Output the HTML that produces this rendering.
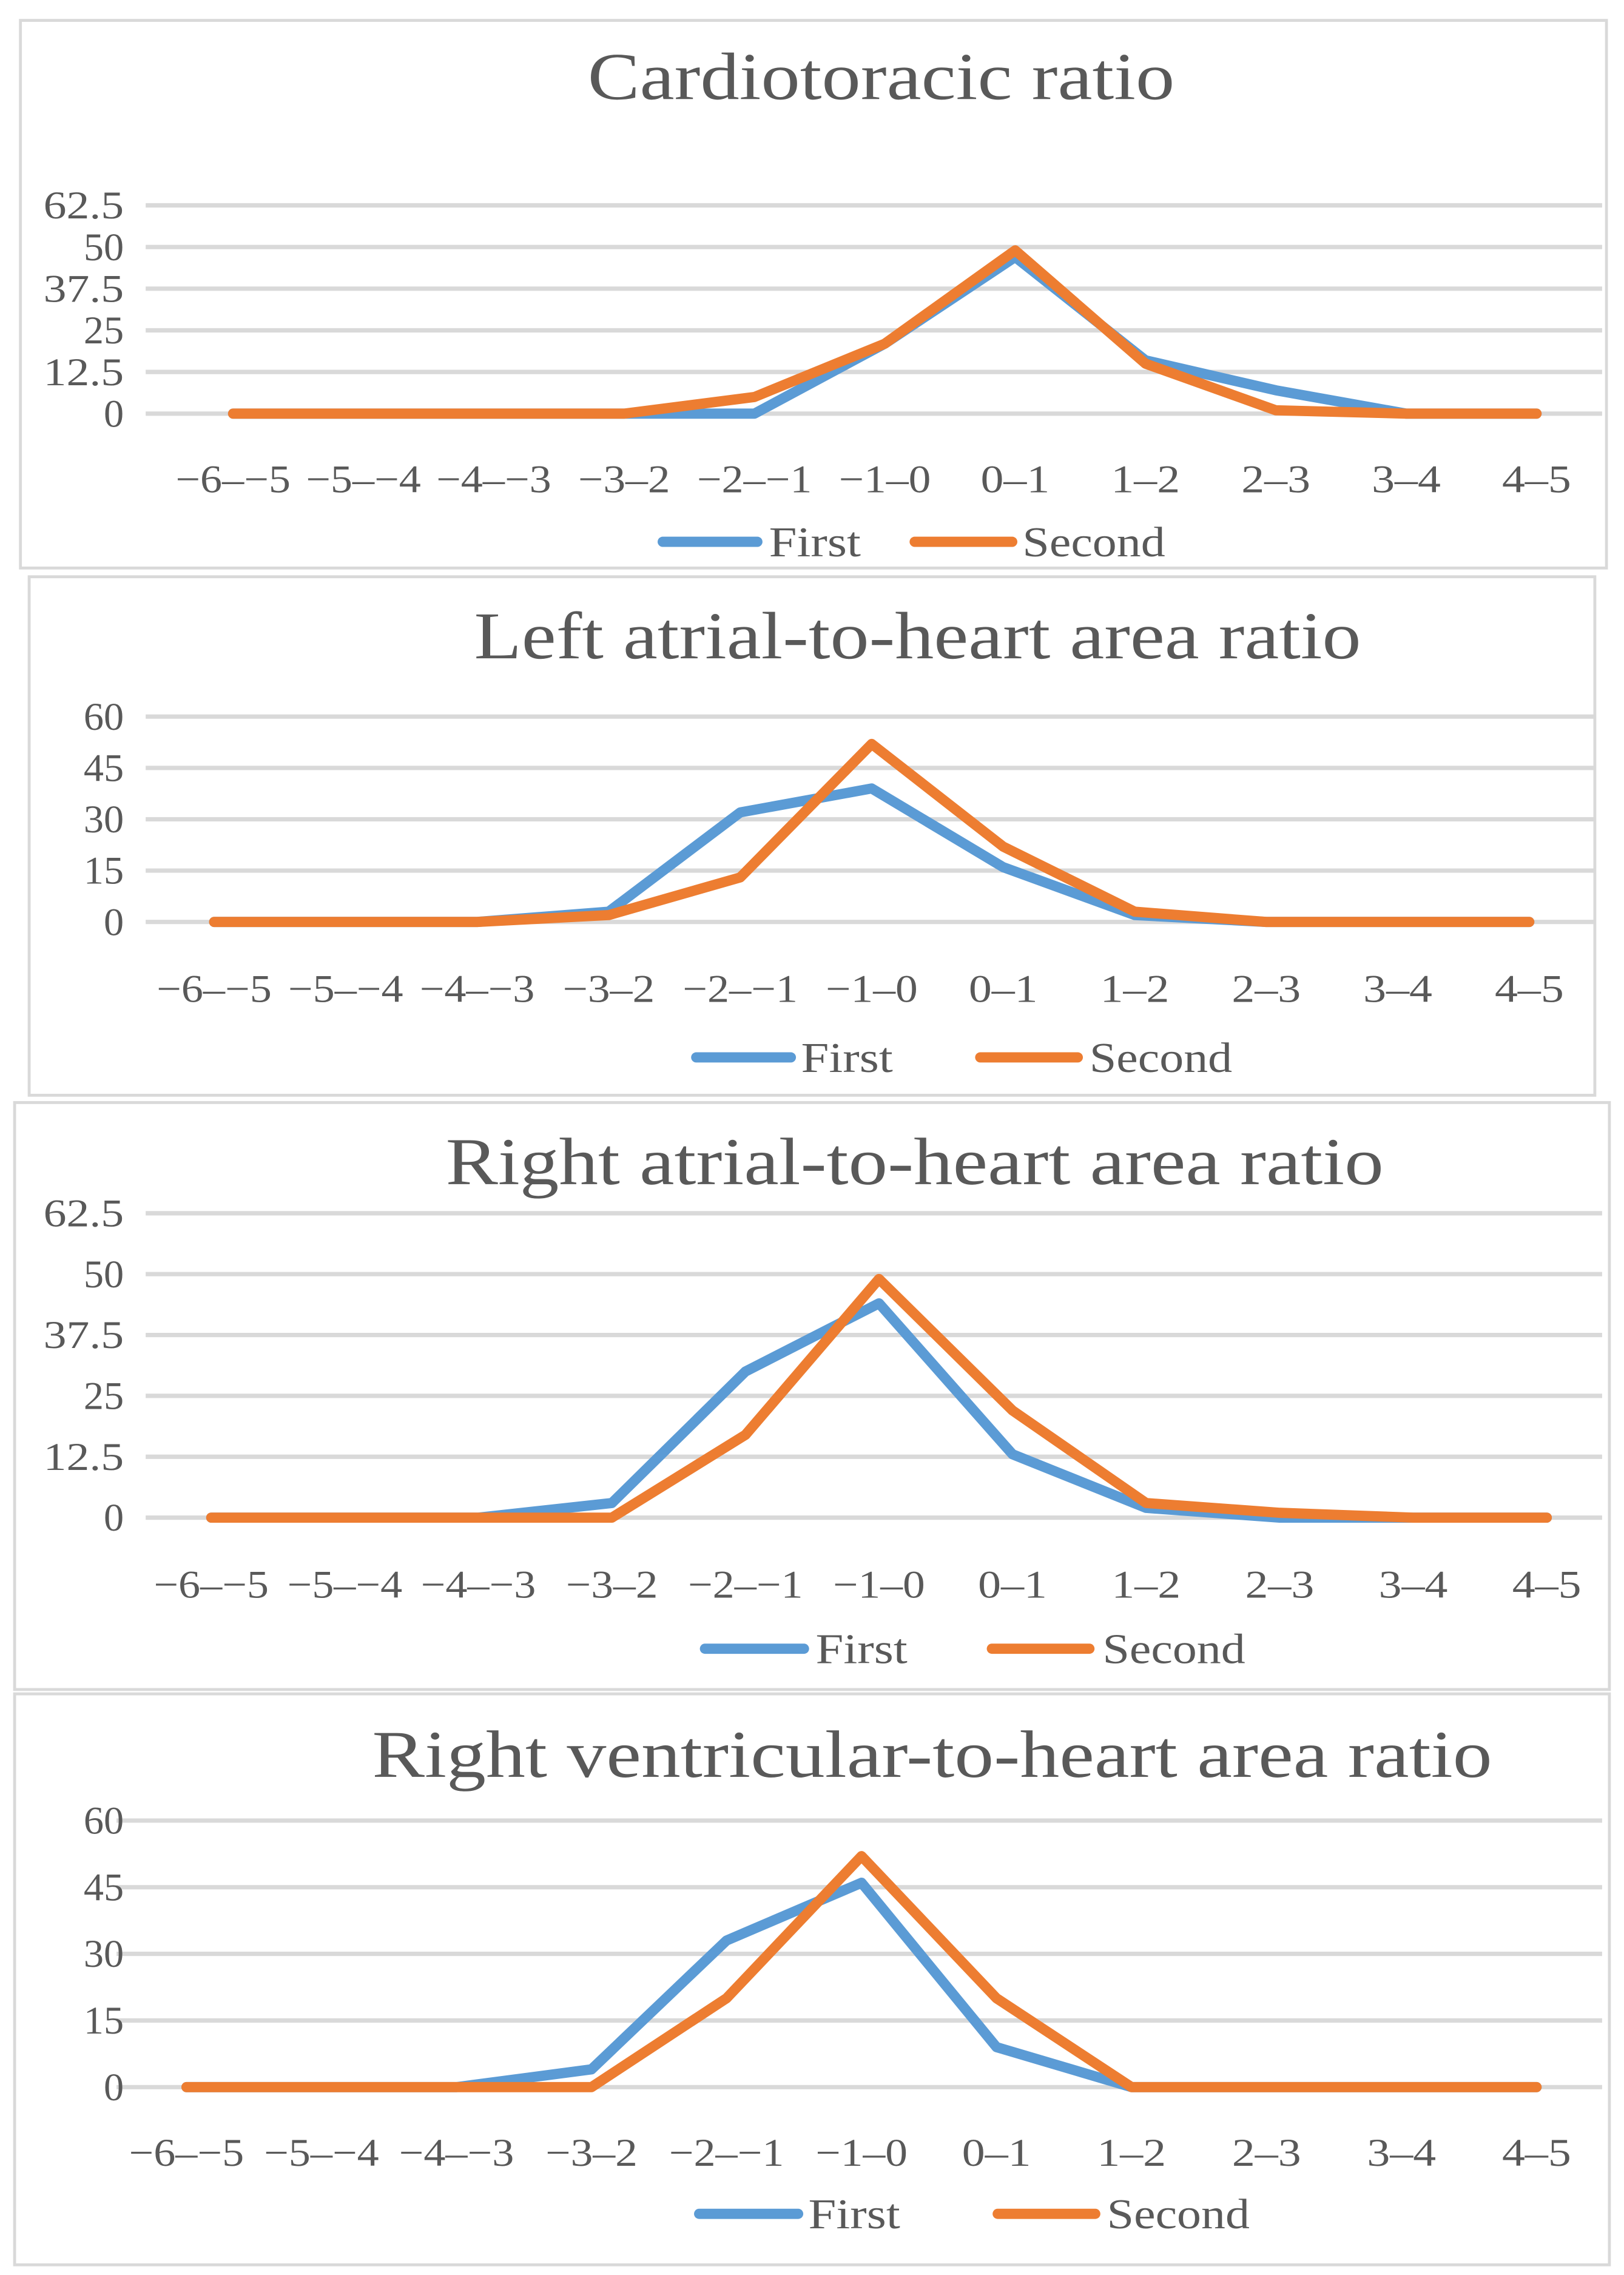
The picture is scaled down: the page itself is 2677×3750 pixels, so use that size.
<!DOCTYPE html>
<html><head><meta charset="utf-8"><style>
html,body{margin:0;padding:0;background:#fff}
svg{display:block}
text{font-family:"Liberation Serif",serif;fill:#595959}
</style></head><body>
<svg id="chart" width="2677" height="3750" viewBox="0 0 1115 1562" xmlns="http://www.w3.org/2000/svg"></svg>
<script>
const categories = ["\u22126\u2013\u22125","\u22125\u2013\u22124","\u22124\u2013\u22123","\u22123\u20132","\u22122\u2013\u22121","\u22121\u20130","0\u20131","1\u20132","2\u20133","3\u20134","4\u20135"];
const titles = ["Cardiotoracic ratio","Left atrial-to-heart area ratio","Right atrial-to-heart area ratio","Right ventricular-to-heart area ratio"];
const ticks1 = ["0","12.5","25","37.5","50","62.5"];
const ticks2 = ["0","15","30","45","60"];
const ticks3 = ["0","12.5","25","37.5","50","62.5"];
const ticks4 = ["0","15","30","45","60"];
const first1 = [0,0,0,0,0,21,47,16,7,0,0];
const second1 = [0,0,0,0,5,21,49,15,1,0,0];
const first2 = [0,0,0,3,32,39,16,2,0,0,0];
const second2 = [0,0,0,2,13,52,22,3,0,0,0];
const first3 = [0,0,0,3,30,44,13,2,0,0,0];
const second3 = [0,0,0,0,17,49,22,3,1,0,0];
const first4 = [0,0,0,4,33,46,9,0,0,0,0];
const second4 = [0,0,0,0,20,52,20,0,0,0,0];

const NS="http://www.w3.org/2000/svg";
const svg=document.getElementById('chart');
function mk(tag,attrs,parent){const e=document.createElementNS(NS,tag);for(const k in attrs)e.setAttribute(k,attrs[k]);(parent||svg).appendChild(e);return e;}
function fitW(e,w){e.setAttribute('textLength',w);e.setAttribute('lengthAdjust','spacingAndGlyphs');}

const layouts=[
 {box:[14,14,1089,376],tx:605,tw:403,ty:68,y0:284,ytop:141,gx0:100,gx1:1100,cx0:160,cx1:1055,ly:338,leg:[455,520,528,628,695,702],legy:372,ticks:ticks1,f:first1,s:second1,tmax:62.5},
 {box:[20,396,1075,356],tx:630,tw:609,ty:452,y0:633,ytop:492,gx0:100,gx1:1095,cx0:147,cx1:1050,ly:688,leg:[478,543,550,673,740,748],legy:726,ticks:ticks2,f:first2,s:second2,tmax:60},
 {box:[10,757,1095,403],tx:628,tw:644,ty:813,y0:1042,ytop:833,gx0:100,gx1:1100,cx0:145,cx1:1062,ly:1097,leg:[484,552,560,681,748,757],legy:1132,ticks:ticks3,f:first3,s:second3,tmax:62.5},
 {box:[10,1163,1095,392],tx:640,tw:769,ty:1220,y0:1433,ytop:1250,gx0:80,gx1:1100,cx0:128,cx1:1055,ly:1487,leg:[480,548,555,685,752,760],legy:1520,ticks:ticks4,f:first4,s:second4,tmax:60}
];

layouts.forEach((L,i)=>{
  const g=mk('g',{});
  
  
  const b=mk('rect',{x:L.box[0],y:L.box[1],width:L.box[2],height:L.box[3],fill:'#fff',stroke:'#d9d9d9','stroke-width':2},g);
  
  
  const t=mk('text',{x:L.tx,y:L.ty,'text-anchor':'middle','font-size':46},g);
  t.textContent=titles[i];
  fitW(t,L.tw);
  
  
  const yScale=v=>L.y0-(v/L.tmax)*(L.y0-L.ytop);
  const xScale=k=>L.cx0+k*(L.cx1-L.cx0)/(categories.length-1);
  L.ticks.forEach(tv=>{
    const y=yScale(parseFloat(tv));
    const gl=mk('line',{x1:L.gx0,x2:L.gx1,y1:y,y2:y,stroke:'#d9d9d9','stroke-width':3},g);
    
    
    const tl=mk('text',{x:85,y:y+9,'text-anchor':'end','font-size':27},g);
    tl.textContent=tv;
    fitW(tl,tv.length*13.8);
    
    
  });
  categories.forEach((c,k)=>{
    const xl=mk('text',{x:xScale(k),y:L.ly,'text-anchor':'middle','font-size':27},g);
    xl.textContent=c;
    fitW(xl,c.length*15.8);
    
    
  });
  [[L.f,'#5b9bd5','series-first'],[L.s,'#ed7d31','series-second']].forEach(([d,col,nm])=>{
    const pts=d.map((v,k)=>xScale(k)+','+yScale(v)).join(' ');
    const pl=mk('polyline',{points:pts,fill:'none',stroke:col,'stroke-width':7,'stroke-linejoin':'round','stroke-linecap':'round'},g);
    
    
  });
  const lg=mk('g',{},g);
  
  
  const l1=mk('line',{x1:L.leg[0],x2:L.leg[1],y1:L.legy,y2:L.legy,stroke:'#5b9bd5','stroke-width':7,'stroke-linecap':'round'},lg);
  
  
  const t1=mk('text',{x:L.leg[2],y:L.legy+10,'font-size':29},lg);
  t1.textContent='First';
  fitW(t1,63);
  
  
  const l2=mk('line',{x1:L.leg[3],x2:L.leg[4],y1:L.legy,y2:L.legy,stroke:'#ed7d31','stroke-width':7,'stroke-linecap':'round'},lg);
  
  
  const t2=mk('text',{x:L.leg[5],y:L.legy+10,'font-size':29},lg);
  t2.textContent='Second';
  fitW(t2,98);
  
  
});
</script>
</body></html>
